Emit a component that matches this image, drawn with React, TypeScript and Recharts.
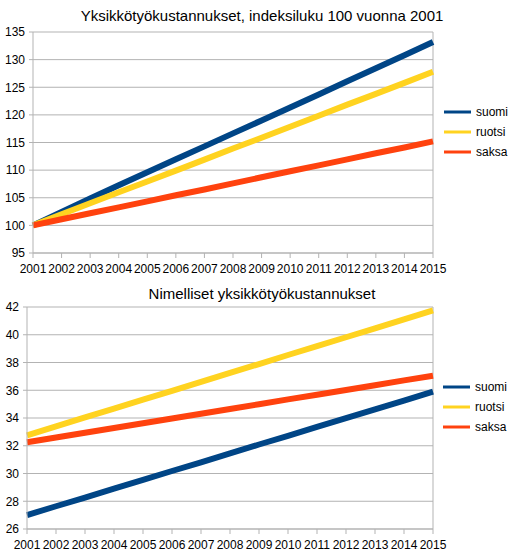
import { LineChart, Line, XAxis, YAxis, CartesianGrid, Legend, ReferenceLine } from 'recharts';

const years = ['2001', '2002', '2003', '2004', '2005', '2006', '2007', '2008', '2009', '2010', '2011', '2012', '2013', '2014', '2015'];
const seriesOrder = ['suomi', 'ruotsi', 'saksa'];

// indeksi, 2001 = 100
const indexSuomi = [100, 102.45, 104.85, 107.25, 109.6, 111.95, 114.3, 116.65, 119.0, 121.35, 123.7, 126.1, 128.45, 130.8, 133.2];
const indexRuotsi = [100, 102.0, 104.0, 106.0, 107.95, 109.9, 111.9, 113.9, 115.85, 117.85, 119.85, 121.85, 123.8, 125.8, 127.8];
const indexSaksa = [100, 101.1, 102.2, 103.25, 104.35, 105.45, 106.5, 107.6, 108.7, 109.8, 110.85, 111.95, 113.05, 114.1, 115.2];
const indexTicks = [95, 100, 105, 110, 115, 120, 125, 130, 135];

// nimelliset
const nomSuomi = [27.0, 27.64, 28.27, 28.91, 29.54, 30.18, 30.81, 31.45, 32.09, 32.72, 33.36, 33.99, 34.63, 35.26, 35.9];
const nomRuotsi = [32.75, 33.39, 34.04, 34.68, 35.32, 35.96, 36.61, 37.25, 37.89, 38.54, 39.18, 39.82, 40.46, 41.11, 41.75];
const nomSaksa = [32.25, 32.59, 32.94, 33.28, 33.62, 33.96, 34.31, 34.65, 34.99, 35.34, 35.68, 36.02, 36.36, 36.71, 37.05];
const nomTicks = [26, 28, 30, 32, 34, 36, 38, 40, 42];

const indexData = years.map((y, i) => ({ year: y, suomi: indexSuomi[i], ruotsi: indexRuotsi[i], saksa: indexSaksa[i] }));
const nomData = years.map((y, i) => ({ year: y, suomi: nomSuomi[i], ruotsi: nomRuotsi[i], saksa: nomSaksa[i] }));

const BLUE = '#004586';
const YELLOW = '#ffd320';
const RED = '#ff420e';
const GRID = '#b3b3b3';
const FONT = '"Liberation Sans", Arial, sans-serif';

const tickStyle = { fill: '#000', fontSize: 12, fontFamily: FONT };

const LegendContent = ({ payload }: any) => {
  const items = [...(payload || [])].sort((a: any, b: any) => seriesOrder.indexOf(a.value) - seriesOrder.indexOf(b.value));
  return (
    <ul style={{ margin: 0, padding: 0, listStyle: 'none', fontFamily: FONT, fontSize: 12, color: '#000' }}>
      {items.map((p: any) => (
        <li key={p.value} style={{ display: 'flex', alignItems: 'center', height: 20 }}>
          <svg width={27} height={4}>
            <line x1={0} y1={2} x2={27} y2={2} stroke={p.color} strokeWidth={3} />
          </svg>
          <span style={{ marginLeft: 5 }}>{p.value}</span>
        </li>
      ))}
    </ul>
  );
};

const Title = ({ text, top }: { text: string; top: number }) => (
  <div
    style={{
      position: 'absolute', left: 62, top, width: 400, textAlign: 'center',
      fontFamily: FONT, fontSize: 15, lineHeight: '15px', color: '#000', whiteSpace: 'nowrap',
    }}
  >
    {text}
  </div>
);

const Panel = ({ data, ticks, yWidth, top, height, marginTop, plotHeight, legendTop, legendLeft }: any) => (
  <div style={{ position: 'absolute', left: 0, top }}>
    <LineChart width={513} height={height} data={data} margin={{ top: marginTop, right: 80, bottom: 0, left: 0 }}>
      <CartesianGrid vertical={false} stroke={GRID} />
      <XAxis
        dataKey="year"
        interval={0}
        tick={tickStyle}
        tickSize={5}
        tickMargin={6}
        height={height - marginTop - plotHeight}
        tickLine={{ stroke: GRID }}
        axisLine={{ stroke: GRID }}
      />
      <YAxis
        type="number"
        domain={[ticks[0], ticks[ticks.length - 1]]}
        ticks={ticks}
        interval={0}
        width={yWidth}
        tick={tickStyle}
        tickSize={4}
        tickMargin={4}
        tickLine={{ stroke: GRID }}
        axisLine={{ stroke: GRID }}
      />
      <ReferenceLine x="2015" stroke={GRID} />
      <Legend
        layout="vertical"
        align="center"
        verticalAlign="middle"
        content={<LegendContent />}
        wrapperStyle={{ left: legendLeft, top: legendTop, width: 70 }}
      />
      <Line type="linear" dataKey="suomi" name="suomi" stroke={BLUE} strokeWidth={6} dot={false} isAnimationActive={false} />
      <Line type="linear" dataKey="ruotsi" name="ruotsi" stroke={YELLOW} strokeWidth={6} dot={false} isAnimationActive={false} />
      <Line type="linear" dataKey="saksa" name="saksa" stroke={RED} strokeWidth={6} dot={false} isAnimationActive={false} />
    </LineChart>
  </div>
);

export default function App() {
  return (
    <div style={{ position: 'absolute', left: 0, top: 0, width: 513, height: 559, background: '#fff', overflow: 'hidden' }}>
      <Panel data={indexData} ticks={indexTicks} yWidth={33} top={0} height={280} marginTop={32} plotHeight={221} legendTop={102} legendLeft={444} />
      <Panel data={nomData} ticks={nomTicks} yWidth={27} top={280} height={279} marginTop={27} plotHeight={222} legendTop={97} legendLeft={443} />
      <Title text="Yksikkötyökustannukset, indeksiluku 100 vuonna 2001" top={8} />
      <Title text="Nimelliset yksikkötyökustannukset" top={286} />
    </div>
  );
}
